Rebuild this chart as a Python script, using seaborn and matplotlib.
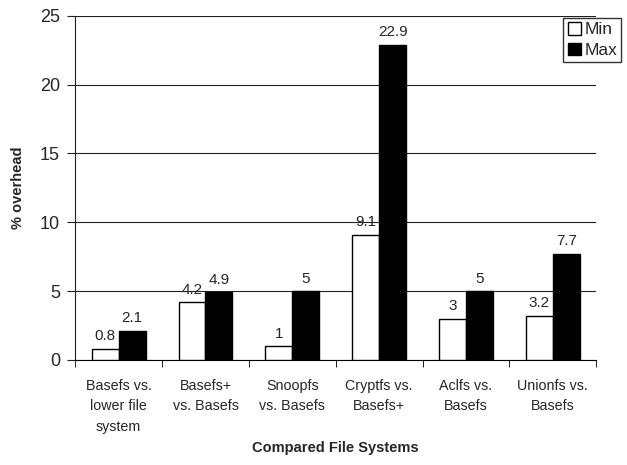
import matplotlib
matplotlib.use("Agg")
import matplotlib.pyplot as plt
import seaborn as sns
import pandas as pd
import numpy as np

categories = ["Basefs vs.\nlower file\nsystem", "Basefs+\nvs. Basefs", "Snoopfs\nvs. Basefs",
              "Cryptfs vs.\nBasefs+", "Aclfs vs.\nBasefs", "Unionfs vs.\nBasefs"]
min_vals = [0.8, 4.2, 1, 9.1, 3, 3.2]
max_vals = [2.1, 4.9, 5, 22.9, 5, 7.7]
series = ["Min", "Max"]

rows = []
for c, a, b in zip(categories, min_vals, max_vals):
    rows.append({"cat": c, "series": "Min", "val": a})
    rows.append({"cat": c, "series": "Max", "val": b})
df = pd.DataFrame(rows)

sns.set_style("white")
plt.rcParams['font.family'] = ['Liberation Sans', 'DejaVu Sans']

fig = plt.figure(figsize=(6.27, 4.65), dpi=100)
ax = fig.add_axes([0.12, 0.226, 0.831, 0.74])
sns.barplot(data=df, x="cat", y="val", hue="series", hue_order=series,
            palette=["white", "black"], edgecolor="black", linewidth=1,
            width=0.62, ax=ax, legend=True, zorder=3)

ax.set_xlim(-0.5, len(categories) - 0.5)
ax.set_ylim(0, 25)
ax.set_yticks([0, 5, 10, 15, 20, 25])
ax.yaxis.grid(True, color="#202020", linewidth=0.8, zorder=0)
ax.set_axisbelow(True)
for s in ["top", "right"]:
    ax.spines[s].set_visible(False)
ax.spines["left"].set_color("#202020")
ax.spines["bottom"].set_color("black")
ax.tick_params(axis="y", labelsize=13, left=True, length=6, color="#202020", pad=5, direction="out")
ax.tick_params(axis="x", which="major", labelsize=10.3, bottom=False, pad=10)
ax.set_xticks(np.arange(-0.5, len(categories), 1.0), minor=True)
ax.tick_params(axis="x", which="minor", bottom=True, length=5, color="black", direction="out")
for lab in ax.get_xticklabels():
    lab.set_linespacing(1.6)

for cont in ax.containers:
    ax.bar_label(cont, labels=[f"{v:g}" for v in cont.datavalues], padding=4, fontsize=11)

ax.set_xlabel("Compared File Systems", fontsize=10.5, fontweight="bold")
ax.set_ylabel("% overhead", fontsize=10.5, fontweight="bold")
ax.xaxis.set_label_coords(0.5, (1 - 448 / 465 - 0.226) / 0.74, transform=ax.transAxes)
ax.xaxis.label.set_va("center")
ax.yaxis.set_label_coords((18 / 627 - 0.12) / 0.831, 0.5, transform=ax.transAxes)
ax.yaxis.label.set_va("center")

ax.legend(loc="upper right", bbox_to_anchor=(0.991, 0.962), bbox_transform=fig.transFigure,
          frameon=True, fancybox=False, edgecolor="black", fontsize=12.5,
          handlelength=0.75, handleheight=0.75, handletextpad=0.2, borderpad=0.25,
          labelspacing=0.3, borderaxespad=0)

fig.savefig("out.png", dpi=100)
